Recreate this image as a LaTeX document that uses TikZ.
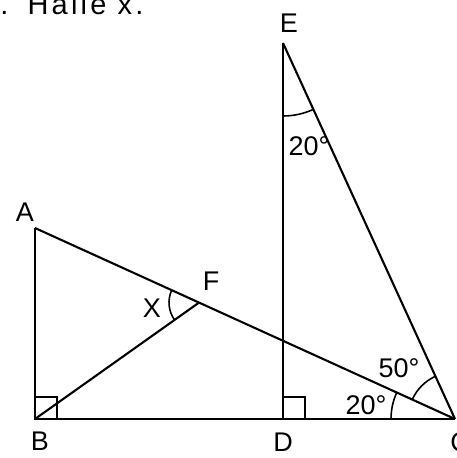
\documentclass[tikz,border=0pt]{standalone}
\usepackage{fontspec}
\setmainfont{Liberation Sans}
\usetikzlibrary{angles,calc}
\begin{document}
\begin{tikzpicture}[x=1pt,y=1pt,
  seg/.style={line width=2.1pt},
  rmark/.style={line width=1.6pt},
  arcmark/.style={draw, line width=1.6pt},
  lbl/.style={inner sep=0pt, font=\fontsize{27}{31}\selectfont}]
\useasboundingbox (0,0) rectangle (457,458);
\coordinate (B) at (35,39);
\coordinate (D) at (283,39);
\coordinate (C) at (455,39);
\coordinate (A) at (35,230);
\coordinate (E) at (283,415);
\coordinate (F) at ($(A)!0.3905!(C)$);
% right angle marks
\draw[rmark] (B) rectangle ++(22,22);
\draw[rmark] (D) rectangle ++(22,22);
% segments
\draw[seg] (A) -- (B);
\draw[seg] (B) -- (C);
\draw[seg] (A) -- (C);
\draw[seg] (B) -- (F);
\draw[seg] (E) -- (D);
\draw[seg] (E) -- (C);
% angle arcs
\pic[arcmark, angle radius=30pt] {angle=A--F--B};
\pic[arcmark, angle radius=73pt] {angle=D--E--C};
\pic[arcmark, angle radius=64pt] {angle=A--C--B};
\pic[arcmark, angle radius=47pt] {angle=E--C--A};
% labels
\node[lbl] (lE) at (289,435) {E};
\node[lbl] (lA) at (25,246) {A};
\node[lbl] (lB) at (40,17) {B};
\node[lbl] (lD) at (283,16) {D};
\node[lbl] (lC) at (460,16) {C};
\node[lbl] (lF) at (211,177) {F};
\node[lbl] (lX) at (152,150) {X};
\node[lbl] (aE) at (309,312) {20°};
\node[lbl] (aC1) at (399,90) {50°};
\node[lbl] (aC2) at (366,53) {20°};
% title
\node[inner sep=0pt, font=\fontsize{29}{34}\selectfont\addfontfeature{LetterSpace=11}, anchor=base west] (title) at (-19,443) {9.\hspace{4pt} Halle x.};
\end{tikzpicture}
\end{document}
